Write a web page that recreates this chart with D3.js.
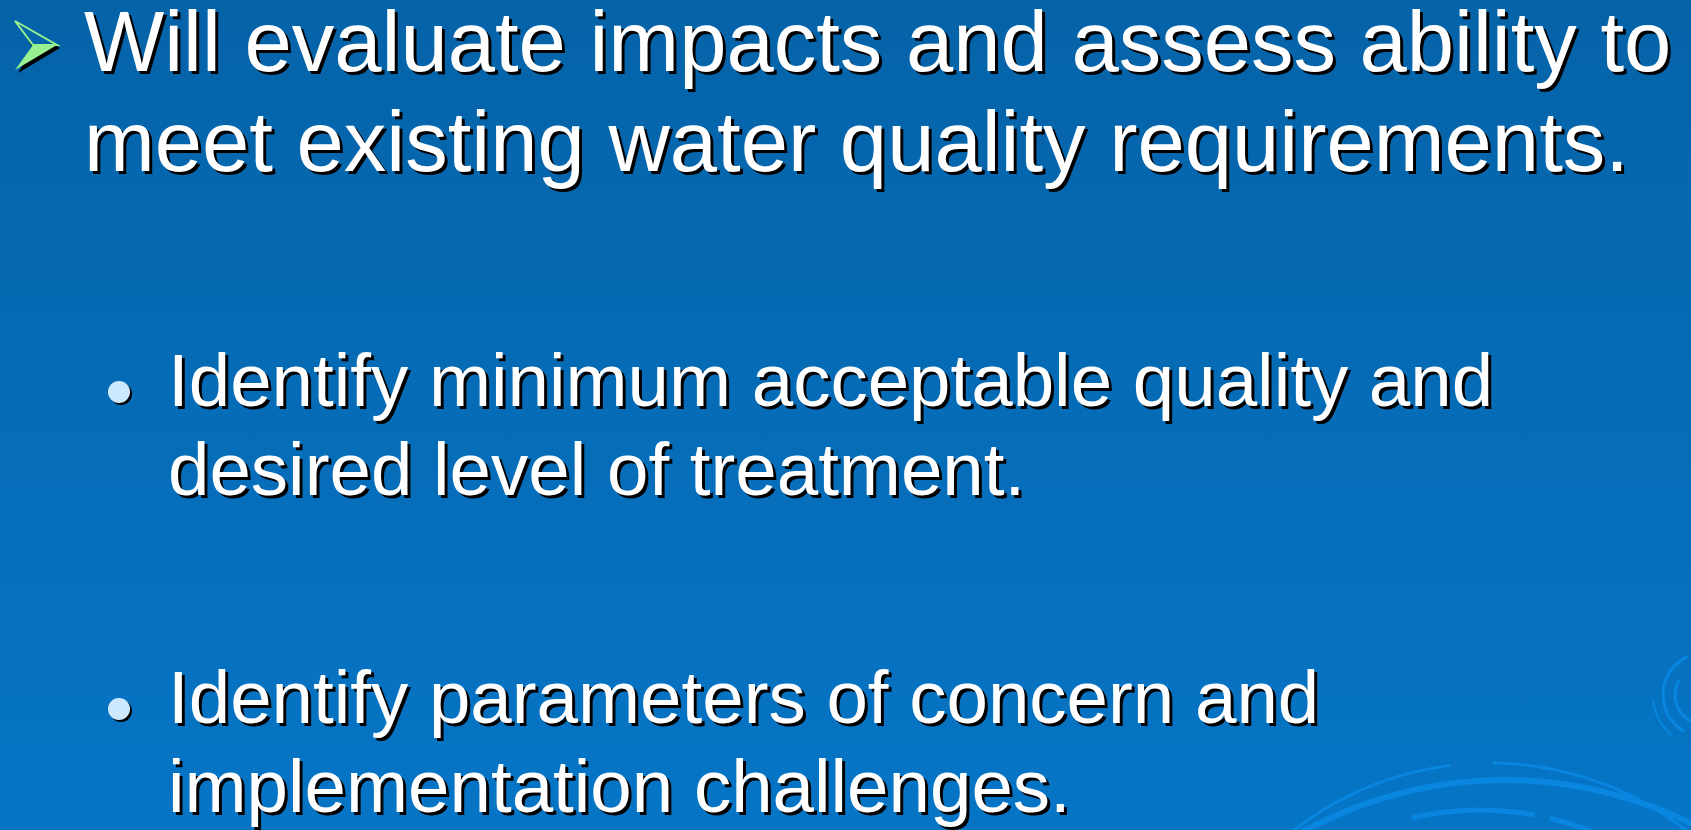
<!DOCTYPE html>
<head>
  <meta charset="UTF-8">
  <title>slide</title>
  <style>
  body, html, svg{
    padding: 0;
    margin: 0;
  }
  body{
    background: #0568b0;
    overflow: hidden;
  }
  text{
    font-family: "Liberation Sans", Arial, sans-serif;
  }
  </style>
</head>
<body>
  <script src="https://cdn.jsdelivr.net/npm/d3@7"></script>
  <script type="text/javascript">
  var width = 1691;
  var height = 830;

  // text content
  var headLines = [
    'Will evaluate impacts and assess ability to',
    'meet existing water quality requirements.'
  ];
  var bulletItems = [
    ['Identify minimum acceptable quality and', 'desired level of treatment.'],
    ['Identify parameters of concern and', 'implementation challenges.']
  ];

  // decorative swirl arcs: [cx, cy, radius, startAngle, endAngle, thickness]
  var swirlArcs = [
    [1490, 1083, 320, -46, -7, 3],
    [1490, 1083, 320, 0.5, 46, 3],
    [1505, 1200, 420, -42, 42, 6],
    [1480, 1110, 300, -13, 10.5, 5],
    [1480, 1110, 300, 13.5, 32, 5],
    [1470, 1150, 300, -28, -16, 3],
    [1705, 695, 42, -150, -25, 3],
    [1705, 695, 30, -175, -60, 3],
    [1705, 695, 52, -140, -95, 2]
  ];

  var svg = d3.select('body')
    .append('svg')
    .attr('width', width)
    .attr('height', height);

  var defs = svg.append('defs');
  var grad = defs.append('linearGradient')
    .attr('id', 'bg')
    .attr('x1', 0).attr('y1', 0).attr('x2', 0).attr('y2', 1);
  grad.append('stop').attr('offset', '0%').attr('stop-color', '#0563a8');
  grad.append('stop').attr('offset', '100%').attr('stop-color', '#0675c6');

  svg.append('rect')
    .attr('width', width)
    .attr('height', height)
    .attr('fill', 'url(#bg)');

  //装饰弧线
  var arc = d3.arc();
  var rad = Math.PI / 180;
  svg.append('g')
    .selectAll('path')
    .data(swirlArcs)
    .enter()
    .append('path')
    .attr('transform', function(d){ return 'translate(' + d[0] + ',' + d[1] + ')'; })
    .attr('d', function(d){
      return arc({
        innerRadius: d[2] - d[5] / 2,
        outerRadius: d[2] + d[5] / 2,
        startAngle: d[3] * rad,
        endAngle: d[4] * rad
      });
    })
    .attr('fill', '#0986e0');

  // text with drop shadow
  function shadowText(g, x, y, str, size){
    g.append('text')
      .attr('x', x + 3).attr('y', y + 3)
      .attr('font-size', size)
      .attr('fill', '#000')
      .text(str);
    g.append('text')
      .attr('x', x).attr('y', y)
      .attr('font-size', size)
      .attr('fill', '#fff')
      .text(str);
  }

  var g = svg.append('g');

  // arrow bullet
  g.append('path').attr('d', 'M18,24 L60,48 L18,73 L33,48 Z').attr('fill', '#000');
  g.append('path').attr('d', 'M15,21 L57,45 L33,45 Z')
    .attr('fill', '#0565aa').attr('stroke', '#99f090').attr('stroke-width', 2);
  g.append('path').attr('d', 'M15,70 L57,45 L33,45 Z')
    .attr('fill', '#99f090');

  headLines.forEach(function(t, i){
    shadowText(g, 84, 71 + i * 100, t, 85);
  });

  var itemY = [406, 723];
  bulletItems.forEach(function(lines, i){
    var cy = itemY[i] - 14;
    g.append('circle').attr('cx', 121).attr('cy', cy + 2).attr('r', 11).attr('fill', '#000');
    g.append('circle').attr('cx', 119).attr('cy', cy).attr('r', 11).attr('fill', '#cde9ff');
    lines.forEach(function(t, j){
      shadowText(g, 168, itemY[i] + j * 89, t, 74.5);
    });
  });
  </script>
</body>
</html>
